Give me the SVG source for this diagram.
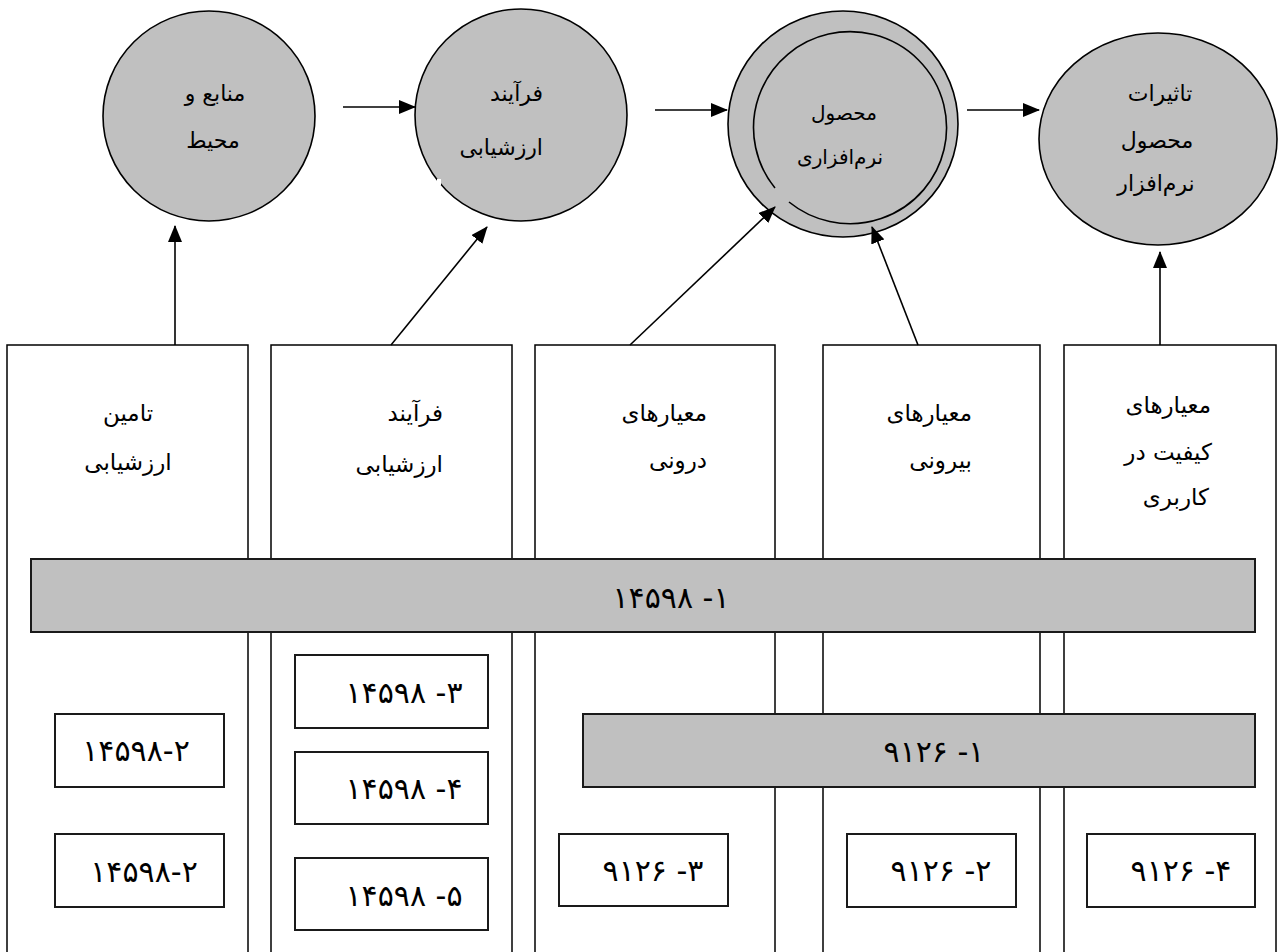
<svg xmlns="http://www.w3.org/2000/svg" width="1279" height="952" viewBox="0 0 1279 952">
  <style>
    .bubble { fill: #c0c0c0; stroke: #000; stroke-width: 1.6; }
    .ring { fill: none; stroke: #000; stroke-width: 1.6; }
    .col { fill: #fff; stroke: #000; stroke-width: 1.5; }
    .bar { fill: #c0c0c0; stroke: #1a1a1a; stroke-width: 2; }
    .box { fill: #fff; stroke: #1a1a1a; stroke-width: 2; }
    .lbl { font-family: "DejaVu Sans", "Noto Sans", sans-serif; font-size: 22px; fill: #000; dominant-baseline: central; }
    .col-lbl { font-size: 23px; }
    .num { font-family: "DejaVu Sans", "Noto Sans", sans-serif; font-size: 30px; fill: #000; dominant-baseline: central; }
    .mid { text-anchor: middle; }
    .end { text-anchor: end; }
    .link { stroke: #000; stroke-width: 1.6; fill: none; marker-end: url(#head); }
  </style>
  <defs>
    <marker id="head" markerUnits="userSpaceOnUse" markerWidth="17" markerHeight="14" refX="16" refY="7" orient="auto">
      <path d="M0,0 L17,7 L0,14 Z" fill="#000"/>
    </marker>
  </defs>
  <rect width="1279" height="952" fill="#fff"/>

  <!-- standard columns -->
  <g id="col-supply">
    <rect class="col" x="7" y="345" width="241" height="620"/>
    <text class="lbl col-lbl mid" x="128" y="413">تامین</text>
    <text class="lbl col-lbl mid" x="128" y="462">ارزشیابی</text>
  </g>
  <g id="col-process">
    <rect class="col" x="271" y="345" width="241" height="620"/>
    <text class="lbl col-lbl end" x="443" y="413">فرآیند</text>
    <text class="lbl col-lbl end" x="443" y="464">ارزشیابی</text>
  </g>
  <g id="col-internal">
    <rect class="col" x="535" y="345" width="240" height="620"/>
    <text class="lbl col-lbl end" x="707" y="413">معیارهای</text>
    <text class="lbl col-lbl end" x="707" y="460">درونی</text>
  </g>
  <g id="col-external">
    <rect class="col" x="823" y="345" width="217" height="620"/>
    <text class="lbl col-lbl end" x="972" y="413">معیارهای</text>
    <text class="lbl col-lbl end" x="972" y="460">بیرونی</text>
  </g>
  <g id="col-inuse">
    <rect class="col" x="1064" y="345" width="212" height="620"/>
    <text class="lbl col-lbl end" x="1211" y="405">معیارهای</text>
    <text class="lbl col-lbl end" x="1212" y="452">کیفیت در</text>
    <text class="lbl col-lbl end" x="1209" y="497">کاربری</text>
  </g>

  <!-- spanning standards -->
  <g id="bar-14598-1">
    <rect class="bar" x="31" y="559" width="1224" height="73"/>
    <text class="num mid" x="671" y="597">۱۴۵۹۸ -۱</text>
  </g>
  <g id="bar-9126-1">
    <rect class="bar" x="583" y="714" width="672" height="73"/>
    <text class="num mid" x="934" y="751">۹۱۲۶ -۱</text>
  </g>

  <!-- individual standards -->
  <g id="box-14598-2a">
    <rect class="box" x="55" y="714" width="169" height="73"/>
    <text class="num mid" x="136" y="750">۱۴۵۹۸-۲</text>
  </g>
  <g id="box-14598-2b">
    <rect class="box" x="55" y="834" width="169" height="73"/>
    <text class="num mid" x="144" y="871">۱۴۵۹۸-۲</text>
  </g>
  <g id="box-14598-3">
    <rect class="box" x="295" y="655" width="193" height="73"/>
    <text class="num mid" x="404" y="692">۱۴۵۹۸ -۳</text>
  </g>
  <g id="box-14598-4">
    <rect class="box" x="295" y="752" width="193" height="72"/>
    <text class="num mid" x="404" y="788">۱۴۵۹۸ -۴</text>
  </g>
  <g id="box-14598-5">
    <rect class="box" x="295" y="858" width="193" height="72"/>
    <text class="num mid" x="404" y="895">۱۴۵۹۸ -۵</text>
  </g>
  <g id="box-9126-3">
    <rect class="box" x="559" y="834" width="169" height="72"/>
    <text class="num mid" x="653" y="870">۹۱۲۶ -۳</text>
  </g>
  <g id="box-9126-2">
    <rect class="box" x="847" y="834" width="169" height="73"/>
    <text class="num mid" x="941" y="870">۹۱۲۶ -۲</text>
  </g>
  <g id="box-9126-4">
    <rect class="box" x="1087" y="834" width="168" height="73"/>
    <text class="num mid" x="1181" y="870">۹۱۲۶ -۴</text>
  </g>

  <!-- top row bubbles -->
  <g id="node-resources">
    <ellipse class="bubble" cx="209" cy="116" rx="106" ry="105"/>
    <text class="lbl mid" x="215" y="93">منابع و</text>
    <text class="lbl mid" x="213" y="140">محیط</text>
  </g>
  <g id="node-process">
    <ellipse class="bubble" cx="521" cy="115" rx="106" ry="106"/>
    <rect x="437" y="179" width="4" height="6" fill="#fff"/>
    <text class="lbl end" x="543" y="93">فرآیند</text>
    <text class="lbl end" x="543" y="147">ارزشیابی</text>
  </g>
  <g id="node-product">
    <ellipse class="bubble" cx="843" cy="124" rx="115" ry="113"/>
    <path class="ring" d="M789,202 A96.5,96 0 1 0 775,188"/>
    <text class="lbl mid" x="844" y="113" style="font-size:20px">محصول</text>
    <text class="lbl mid" x="840" y="157" style="font-size:20px">نرم‌افزاری</text>
  </g>
  <g id="node-effects">
    <ellipse class="bubble" cx="1158" cy="139" rx="119" ry="106"/>
    <text class="lbl mid" x="1160" y="93">تاثیرات</text>
    <text class="lbl mid" x="1157" y="140">محصول</text>
    <text class="lbl mid" x="1156" y="183">نرم‌افزار</text>
  </g>

  <!-- connectors -->
  <g id="connectors">
    <line class="link" x1="343" y1="107" x2="415" y2="107"/>
    <line class="link" x1="655" y1="110" x2="727" y2="110"/>
    <line class="link" x1="967" y1="110" x2="1039" y2="110"/>
    <line class="link" x1="175" y1="345" x2="175" y2="226"/>
    <line class="link" x1="391" y1="345" x2="487" y2="227"/>
    <line class="link" x1="630" y1="345" x2="775" y2="207"/>
    <line class="link" x1="918" y1="345" x2="872" y2="227"/>
    <line class="link" x1="1160" y1="345" x2="1160" y2="252"/>
  </g>
</svg>
